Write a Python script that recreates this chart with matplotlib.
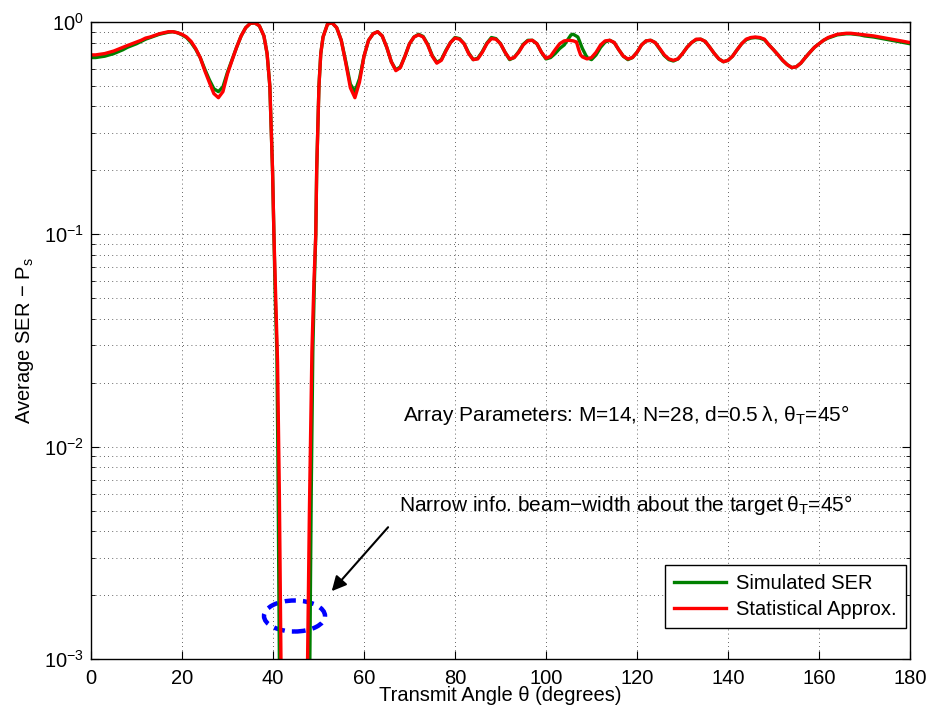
import matplotlib
matplotlib.use("Agg")
import matplotlib.pyplot as plt
from matplotlib.patches import Ellipse
from matplotlib.ticker import LogLocator, MultipleLocator

plt.rcParams['font.family'] = ['Liberation Sans', 'DejaVu Sans']
plt.rcParams['mathtext.fontset'] = 'custom'
plt.rcParams['mathtext.rm'] = 'Liberation Sans'
plt.rcParams['mathtext.it'] = 'Liberation Sans:italic'

# ---- data ----
theta_approx = [0, 1, 2, 3, 4, 5, 6, 7, 8, 9, 10, 11, 12, 13, 14, 15, 16, 17, 18, 19,
                20, 21, 22, 23, 24, 25, 26, 27, 28, 29, 30, 31, 32, 33, 34, 35, 36, 37, 38,
                38.7, 39.3, 39.9, 40.2, 40.6, 41.0, 41.4, 41.75, 42.2, 45, 47.2, 47.6, 48.0,
                48.55, 49.0, 49.4, 49.6, 50.1, 50.5, 51, 52, 53, 54, 55, 56, 57, 58, 59, 60,
                61, 62, 63, 64, 65, 66, 67, 68, 69, 70, 71, 72, 73, 74, 75, 76, 77, 78, 79,
                80, 81, 82, 83, 84, 85, 86, 87, 88, 89, 90, 91, 92, 93, 94, 95, 96, 97, 98,
                99, 100, 101, 102, 103, 104, 105, 106, 106.7, 107.2, 107.6, 108, 109, 110,
                111, 112, 113, 114, 115, 116, 117, 118, 119, 120, 121, 122, 123, 124, 125,
                126, 127, 128, 129, 130, 131, 132, 133, 134, 135, 136, 137, 138, 139, 140,
                141, 142, 143, 144, 145, 146, 147, 148, 149, 150, 151, 152, 153, 154, 155,
                156, 157, 158, 159, 160, 161, 162, 163, 164, 165, 166, 167, 168, 169, 170,
                172, 174, 176, 178, 180]
ser_approx = [0.70, 0.70, 0.705, 0.71, 0.72, 0.73, 0.745, 0.76, 0.775, 0.79, 0.805, 0.82,
              0.84, 0.85, 0.865, 0.88, 0.89, 0.90, 0.90, 0.89,
              0.875, 0.85, 0.81, 0.75, 0.68, 0.59, 0.52, 0.46, 0.44, 0.47, 0.57, 0.66, 0.76,
              0.86, 0.94, 0.985, 0.99, 0.96, 0.86,
              0.71, 0.50, 0.20, 0.10, 0.05, 0.025, 0.006, 0.001, 0.0003, 0.00001, 0.0003,
              0.001, 0.005,
              0.028, 0.06, 0.10, 0.20, 0.50, 0.71, 0.85, 0.98, 0.99, 0.94, 0.82, 0.64, 0.49,
              0.44, 0.52, 0.69,
              0.82, 0.88, 0.90, 0.86, 0.76, 0.65, 0.59, 0.61, 0.69, 0.79, 0.85, 0.87, 0.85,
              0.78, 0.69, 0.64, 0.66, 0.73, 0.80,
              0.84, 0.83, 0.79, 0.71, 0.665, 0.67, 0.72, 0.79, 0.835, 0.83, 0.79, 0.72, 0.67,
              0.68, 0.72, 0.78, 0.815, 0.82, 0.79,
              0.72, 0.675, 0.69, 0.74, 0.79, 0.815, 0.82, 0.815, 0.805, 0.74, 0.70, 0.685,
              0.67, 0.68,
              0.72, 0.78, 0.815, 0.82, 0.80, 0.74, 0.69, 0.67, 0.68, 0.72, 0.78, 0.815, 0.82,
              0.80, 0.75,
              0.70, 0.67, 0.66, 0.67, 0.71, 0.76, 0.80, 0.83, 0.83, 0.81, 0.76, 0.71, 0.67,
              0.65, 0.66,
              0.69, 0.74, 0.79, 0.83, 0.845, 0.85, 0.845, 0.83, 0.78, 0.74, 0.70, 0.66, 0.63,
              0.61, 0.615,
              0.64, 0.68, 0.72, 0.76, 0.79, 0.82, 0.845, 0.86, 0.875, 0.88, 0.885, 0.885,
              0.88, 0.875, 0.87,
              0.86, 0.845, 0.83, 0.815, 0.80]

theta_sim = [0, 1, 2, 3, 4, 5, 6, 7, 8, 9, 10, 11, 12, 13, 14, 15, 16, 17, 18, 19,
             20, 21, 22, 23, 24, 25, 26, 27, 28, 29, 30, 31, 32, 33, 34, 35, 36, 37, 38,
             38.7, 39.3, 39.9, 40.2, 40.5, 40.85, 41.1, 41.4, 42.0, 45, 47.4, 48.1, 48.4,
             48.75, 49.1, 49.4, 49.6, 50.1, 50.5, 51, 52, 53, 54, 55, 56, 57, 58, 59, 60,
             61, 62, 63, 64, 65, 66, 67, 68, 69, 70, 71, 72, 73, 74, 75, 76, 77, 78, 79,
             80, 81, 82, 83, 84, 85, 86, 87, 88, 89, 90, 91, 92, 93, 94, 95, 96, 97, 98,
             99, 100, 101, 102, 103, 104, 105, 105.5, 106, 107, 108, 109, 110,
             111, 112, 113, 114, 115, 116, 117, 118, 119, 120, 121, 122, 123, 124, 125,
             126, 127, 128, 129, 130, 131, 132, 133, 134, 135, 136, 137, 138, 139, 140,
             141, 142, 143, 144, 145, 146, 147, 148, 149, 150, 151, 152, 153, 154, 155,
             156, 157, 158, 159, 160, 161, 162, 163, 164, 165, 166, 167, 168, 169, 170,
             172, 174, 176, 178, 180]
ser_sim = [0.68, 0.68, 0.685, 0.69, 0.70, 0.71, 0.725, 0.74, 0.76, 0.775, 0.79, 0.81,
           0.83, 0.845, 0.86, 0.875, 0.885, 0.895, 0.90, 0.89,
           0.87, 0.845, 0.80, 0.745, 0.68, 0.60, 0.535, 0.485, 0.47, 0.495, 0.58, 0.665, 0.76,
           0.86, 0.94, 0.985, 0.99, 0.96, 0.86,
           0.71, 0.50, 0.20, 0.10, 0.05, 0.028, 0.008, 0.001, 0.0002, 0.00001, 0.0002,
           0.001, 0.006,
           0.028, 0.06, 0.10, 0.20, 0.50, 0.71, 0.85, 0.98, 0.99, 0.94, 0.82, 0.65, 0.51,
           0.47, 0.54, 0.69,
           0.82, 0.88, 0.90, 0.86, 0.76, 0.65, 0.595, 0.615, 0.69, 0.79, 0.85, 0.875, 0.855,
           0.785, 0.695, 0.645, 0.665, 0.735, 0.80,
           0.845, 0.835, 0.79, 0.715, 0.665, 0.675, 0.725, 0.795, 0.845, 0.835, 0.79, 0.72,
           0.665, 0.68, 0.725, 0.785, 0.82, 0.82, 0.79,
           0.72, 0.67, 0.68, 0.71, 0.75, 0.78, 0.84, 0.87, 0.875, 0.85, 0.75, 0.68, 0.665,
           0.70, 0.76, 0.805, 0.82, 0.80, 0.74, 0.69, 0.665, 0.68, 0.72, 0.78, 0.815, 0.82,
           0.80, 0.745,
           0.695, 0.665, 0.655, 0.67, 0.71, 0.76, 0.80, 0.825, 0.83, 0.81, 0.76, 0.71, 0.67,
           0.65, 0.66,
           0.69, 0.74, 0.79, 0.825, 0.84, 0.845, 0.84, 0.825, 0.78, 0.74, 0.70, 0.66, 0.63,
           0.61, 0.615,
           0.64, 0.68, 0.72, 0.76, 0.79, 0.82, 0.84, 0.855, 0.87, 0.875, 0.88, 0.88,
           0.875, 0.87, 0.86,
           0.85, 0.835, 0.82, 0.805, 0.79]

legend_labels = ["Simulated SER", "Statistical Approx."]
x_ticks = [0, 20, 40, 60, 80, 100, 120, 140, 160, 180]

FS = 14.5

# ---- figure ----
fig = plt.figure(figsize=(9.31, 7.14), dpi=100)
ax = fig.add_axes([91 / 931, 1 - 659 / 714, (910 - 91) / 931, (659 - 22) / 714])

ax.plot(theta_sim, ser_sim, color='#008000', lw=2.4, label=legend_labels[0], solid_joinstyle='round')
ax.plot(theta_approx, ser_approx, color='#ff0000', lw=2.4, label=legend_labels[1], solid_joinstyle='round')

ax.set_yscale('log')
ax.set_xlim(0, 180)
ax.set_ylim(1e-3, 1)
ax.set_xticks(x_ticks)
ax.yaxis.set_major_locator(LogLocator(base=10, numticks=10))
ax.yaxis.set_minor_locator(LogLocator(base=10, subs=range(2, 10), numticks=20))
ax.xaxis.set_minor_locator(MultipleLocator(20))

ax.grid(True, which='major', linestyle=(0, (1, 4)), color='#333333', linewidth=0.6)
ax.grid(True, which='minor', axis='y', linestyle=(0, (1, 4)), color='#333333', linewidth=0.6)
ax.tick_params(which='both', direction='in', top=True, right=True, labelsize=FS)
ax.tick_params(axis='x', which='major', pad=7)
ax.tick_params(axis='y', which='major', pad=5)
ax.tick_params(which='major', length=6, width=0.8)
ax.tick_params(which='minor', length=3, width=0.6)
for s in ax.spines.values():
    s.set_linewidth(1.0)

ax.set_xlabel("Transmit Angle \u03b8 (degrees)", fontsize=FS, labelpad=-1)
ax.set_ylabel("Average SER \u2212 P$_\\mathrm{s}$", fontsize=FS, labelpad=6)

ax.text(68.6, 0.0141, "Array Parameters: M=14, N=28, d=0.5\u2009\u03bb, \u03b8$_\\mathrm{T}$=45\u00b0",
        fontsize=15, va='center', ha='left')
ax.text(67.7, 0.0053, "Narrow info. beam\u2212width about the target\u2009\u03b8$_\\mathrm{T}$=45\u00b0",
        fontsize=15, va='center', ha='left')
ax.annotate("", xy=(52.5, 0.00204), xytext=(65.7, 0.00427),
            arrowprops=dict(arrowstyle='-|>', color='black', lw=1.5, mutation_scale=22))

ell = Ellipse((0.2485, 0.0675), 0.0745, 0.0487, transform=ax.transAxes, fill=False,
              edgecolor='#0000ff', lw=3.2, linestyle=(0, (2.5, 1.6)))
ax.add_patch(ell)

leg = ax.legend(loc='lower right', fontsize=FS, frameon=True, fancybox=False,
                edgecolor='black', framealpha=1, borderpad=0.45, labelspacing=0.32,
                handlelength=2.6, handletextpad=0.5, borderaxespad=0,
                bbox_to_anchor=(0.995, 0.0487))
leg.get_frame().set_linewidth(1.0)

fig.savefig("out.png", dpi=100)
